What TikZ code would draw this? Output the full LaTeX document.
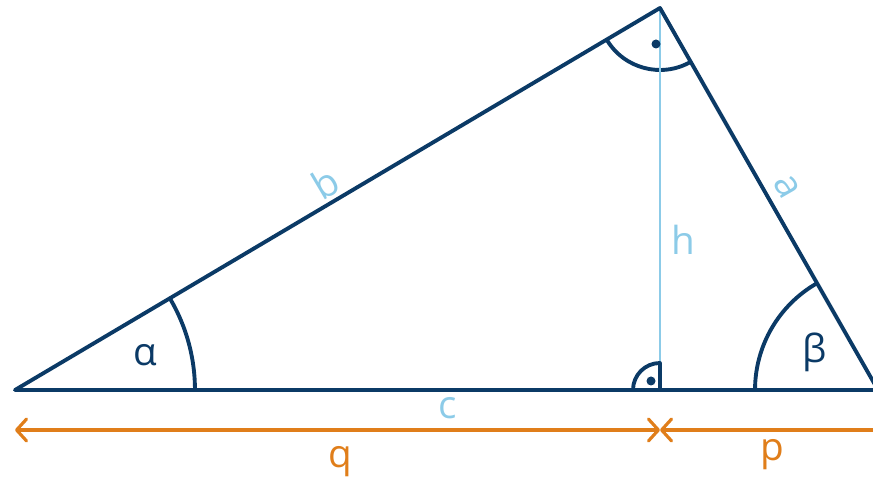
\documentclass[tikz,border=0pt]{standalone}
\usepackage{fontspec}
\setmainfont{Open Sans}
\usetikzlibrary{arrows.meta,angles}
\definecolor{side}{HTML}{0B3A66}
\definecolor{height}{HTML}{8CCBE8}
\definecolor{segment}{HTML}{E07E1A}

\begin{document}
\begin{tikzpicture}[x=0.02cm,y=0.02cm,
  tri/.style={side,line width=2.2pt,line join=round},
  seg/.style={segment,line width=1.8pt,{Straight Barb[round,length=2mm,width=4.4mm]}-{Straight Barb[round,length=2mm,width=4.4mm]}},
  lbl/.style={font=\fontsize{22}{26}\selectfont}]
  \useasboundingbox (0,0) rectangle (873,480);
  % vertices and foot of the height
  \coordinate (A) at (15,90);
  \coordinate (B) at (878,90);
  \coordinate (C) at (660,472);
  \coordinate (H) at (660,90);
  % angle arcs
  \pic[draw,tri,angle radius=3.6cm] {angle=B--A--C};
  \pic[draw,tri,angle radius=2.46cm] {angle=C--B--A};
  \pic[draw,tri,angle radius=1.24cm] {angle=A--C--B};
  % height
  \draw[height,line width=1.6pt] (C) -- (H);
  % triangle
  \draw[tri] (A) -- (B) -- (C) -- cycle;
  % right angles
  \draw[tri,fill=white] (H) -- ++(0,27) arc[start angle=90,end angle=180,radius=27] -- cycle;
  \fill[side] (651,99) circle[radius=4.5];
  \fill[side] (656,436) circle[radius=4.5];
  % labels
  \node[lbl,side] (alpha) at (145,125) {α};
  \node[lbl,side] (beta) at (815,128) {β};
  \node[lbl,height,rotate=30.6] (b) at (325,297) {b};
  \node[lbl,height,rotate=-60.3] (a) at (787,293) {a};
  \node[lbl,height] (h) at (683,240) {h};
  \node[lbl,height] (c) at (448,72) {c};
  % segments q and p
  \coordinate (qL) at (15,50);
  \coordinate (pq) at (660,50);
  \coordinate (pR) at (886,50);
  \draw[seg] (qL) -- (pq);
  \draw[seg] (pq) -- (pR);
  \node[lbl,segment] (q) at (340,18) {q};
  \node[lbl,segment] (p) at (772,25) {p};
\end{tikzpicture}
\end{document}
